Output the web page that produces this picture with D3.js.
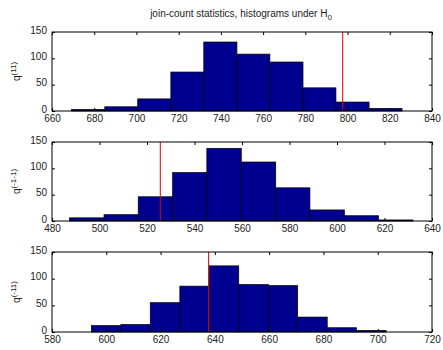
<!DOCTYPE html>
<html><head><meta charset="utf-8">
<script src="https://cdn.jsdelivr.net/npm/d3@7"></script>
<style>
html,body{margin:0;padding:0;background:#fff;}
svg{display:block;font-family:"Liberation Sans",Arial,sans-serif;}
</style></head>
<body>
<svg id="c" width="443" height="350"></svg>
<script>
// ---- data ----
const titleText = "join-count statistics, histograms under H";
const yLabels = ["(11)", "(-1-1)", "(-11)"];
const xDomains = [[660, 840], [480, 640], [580, 720]];
const xTicks1 = [660, 680, 700, 720, 740, 760, 780, 800, 820, 840];
const xTicks2 = [480, 500, 520, 540, 560, 580, 600, 620, 640];
const xTicks3 = [580, 600, 620, 640, 660, 680, 700, 720];
const yTicks = [0, 50, 100, 150];
const edges1 = [669.3, 685.0, 700.6, 716.3, 731.9, 747.6, 763.2, 778.9, 794.5, 810.2, 825.8];
const counts1 = [3, 8, 23, 74, 131, 108, 93, 44, 17, 5];
const edges2 = [487.4, 501.9, 516.3, 530.8, 545.2, 559.7, 574.2, 588.6, 603.1, 617.5, 632.0];
const counts2 = [6, 12, 46, 92, 138, 112, 63, 21, 10, 2];
const edges3 = [594.5, 605.4, 616.2, 627.1, 637.9, 648.8, 659.7, 670.5, 681.4, 692.2, 703.1];
const counts3 = [12, 14, 55, 86, 124, 89, 87, 28, 8, 3];
const observed = [797.7, 525.6, 637.7];

const panels = [
  {edges: edges1, counts: counts1, ticks: xTicks1, dom: xDomains[0], obs: observed[0], lab: yLabels[0], top: 32, bottom: 111},
  {edges: edges2, counts: counts2, ticks: xTicks2, dom: xDomains[1], obs: observed[1], lab: yLabels[1], top: 142, bottom: 221},
  {edges: edges3, counts: counts3, ticks: xTicks3, dom: xDomains[2], obs: observed[2], lab: yLabels[2], top: 252, bottom: 332}
];

const svg = d3.select("#c");
const L = 52, R = 432;
const txt = "#222";

// title
const t = svg.append("text").attr("x", 241).attr("y", 17).attr("text-anchor", "middle")
  .attr("font-size", 10).attr("fill", txt).text(titleText);
t.append("tspan").attr("font-size", 8).attr("dy", 3).text("0");

panels.forEach(p => {
  const x = d3.scaleLinear().domain(p.dom).range([L, R]);
  const y = d3.scaleLinear().domain([0, 150]).range([p.bottom, p.top]);
  const g = svg.append("g");
  const bins = p.counts.map((c, i) => ({x0: p.edges[i], x1: p.edges[i + 1], c}));
  g.selectAll("rect.bar").data(bins).join("rect").attr("class", "bar")
    .attr("x", d => x(d.x0)).attr("width", d => x(d.x1) - x(d.x0))
    .attr("y", d => y(d.c)).attr("height", d => y(0) - y(d.c))
    .attr("fill", "#000090").attr("stroke", "#000").attr("stroke-width", 0.7);
  g.append("line").attr("x1", x(p.obs)).attr("x2", x(p.obs))
    .attr("y1", y(150)).attr("y2", y(0)).attr("stroke", "#e00000").attr("stroke-width", 1);

  // axes (inside ticks, matlab-like)
  const ax = d3.axisBottom(x).tickValues(p.ticks).tickSize(-3).tickPadding(4).tickFormat(d3.format("d"));
  const axT = d3.axisTop(x).tickValues(p.ticks).tickSize(-3).tickFormat("");
  const ay = d3.axisLeft(y).tickValues(yTicks).tickSize(-3).tickPadding(5);
  const ayR = d3.axisRight(y).tickValues(yTicks).tickSize(-3).tickFormat("");
  const axes = [
    g.append("g").attr("transform", `translate(0,${p.bottom})`).call(ax),
    g.append("g").attr("transform", `translate(0,${p.top})`).call(axT),
    g.append("g").attr("transform", `translate(${L},0)`).call(ay),
    g.append("g").attr("transform", `translate(${R},0)`).call(ayR)
  ];
  axes.forEach(a => {
    a.select(".domain").remove();
    a.selectAll(".tick line").attr("stroke", "#000");
    a.selectAll("text").attr("font-size", 10).attr("fill", txt)
      .attr("font-family", "'Liberation Sans',Arial,sans-serif");
  });
  axes[2].selectAll("text").attr("dy", "0.12em");
  g.append("rect").attr("x", L).attr("y", p.top).attr("width", R - L).attr("height", p.bottom - p.top)
    .attr("fill", "none").attr("stroke", "#000").attr("stroke-width", 1);

  const lt = svg.append("text").attr("transform", `translate(20,${(p.top + p.bottom) / 2}) rotate(-90)`)
    .attr("text-anchor", "middle").attr("font-size", 10).attr("fill", txt).text("q");
  lt.append("tspan").attr("font-size", 8).attr("dy", -4).text(p.lab);
});
</script>
</body></html>
